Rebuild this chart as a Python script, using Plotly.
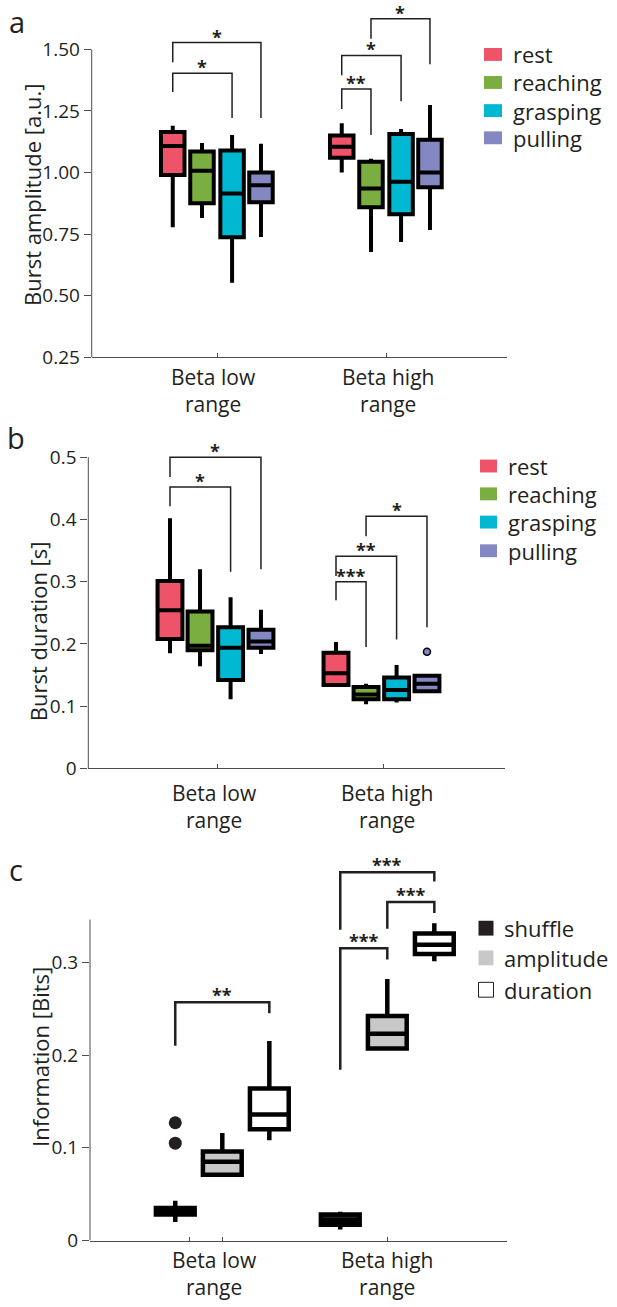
import plotly.graph_objects as go

W, H = 617, 1307
FONT = "Open Sans"
INK = "#231F20"

# ---------------- data ----------------
band_pos = [1, 2]
band_labels = ["Beta low<br>range", "Beta high<br>range"]

conditions = ["rest", "reaching", "grasping", "pulling"]
cond_colors = ["#EF5369", "#7BAE41", "#00B8D1", "#8388C2"]

# panel a : burst amplitude [a.u.]  (rows: rest, reaching, grasping, pulling)
amp_low_lo = [0.778, 0.815, 0.552, 0.738]
amp_low_q1 = [0.990, 0.875, 0.737, 0.879]
amp_low_med = [1.108, 1.007, 0.915, 0.948]
amp_low_q3 = [1.165, 1.085, 1.090, 1.000]
amp_low_hi = [1.190, 1.120, 1.153, 1.117]
amp_high_lo = [1.000, 0.677, 0.718, 0.766]
amp_high_q1 = [1.060, 0.859, 0.830, 0.940]
amp_high_med = [1.105, 0.935, 0.963, 1.000]
amp_high_q3 = [1.150, 1.044, 1.157, 1.133]
amp_high_hi = [1.200, 1.056, 1.177, 1.274]
amp_ticks = [0.25, 0.50, 0.75, 1.00, 1.25, 1.50]
amp_ticktext = ["0.25", "0.50", "0.75", "1.00", "1.25", "1.50"]

# panel b : burst duration [s]
dur_low_lo = [0.185, 0.164, 0.111, 0.184]
dur_low_q1 = [0.208, 0.190, 0.142, 0.194]
dur_low_med = [0.254, 0.197, 0.194, 0.204]
dur_low_q3 = [0.301, 0.252, 0.227, 0.223]
dur_low_hi = [0.402, 0.320, 0.275, 0.255]
dur_high_lo = [0.131, 0.103, 0.106, 0.122]
dur_high_q1 = [0.134, 0.111, 0.111, 0.124]
dur_high_med = [0.153, 0.119, 0.126, 0.136]
dur_high_q3 = [0.186, 0.131, 0.146, 0.149]
dur_high_hi = [0.203, 0.136, 0.166, 0.149]
dur_outlier_band = [1]
dur_outlier_cond = [3]
dur_outlier_val = [0.1875]
dur_ticks = [0, 0.1, 0.2, 0.3, 0.4, 0.5]
dur_ticktext = ["0", "0.1", "0.2", "0.3", "0.4", "0.5"]

# panel c : information [Bits]  (rows: shuffle, amplitude, duration)
info_groups = ["shuffle", "amplitude", "duration"]
info_colors = [INK, "#C8C8C8", "#FFFFFF"]
info_low_lo = [0.020, 0.070, 0.108]
info_low_q1 = [0.028, 0.071, 0.120]
info_low_med = [0.032, 0.085, 0.136]
info_low_q3 = [0.035, 0.096, 0.164]
info_low_hi = [0.043, 0.116, 0.215]
info_high_lo = [0.012, 0.206, 0.301]
info_high_q1 = [0.017, 0.207, 0.309]
info_high_med = [0.022, 0.223, 0.319]
info_high_q3 = [0.028, 0.242, 0.331]
info_high_hi = [0.031, 0.282, 0.342]
info_outlier_band = [0, 0]
info_outlier_group = [0, 0]
info_outlier_val = [0.127, 0.105]
info_ticks = [0, 0.1, 0.2, 0.3]
info_ticktext = ["0", "0.1", "0.2", "0.3"]

# significance brackets: band, from-group, to-group, top, left-leg end, right-leg end, label
a_sig_band = [0, 0, 1, 1, 1]
a_sig_from = [0, 0, 0, 0, 1]
a_sig_to = [2, 3, 1, 2, 3]
a_sig_top = [1.403, 1.528, 1.339, 1.476, 1.625]
a_sig_left = [1.327, 1.448, 1.258, 1.395, 1.544]
a_sig_right = [1.222, 1.222, 1.153, 1.290, 1.440]
a_sig_label = ["*", "*", "**", "*", "*"]

b_sig_band = [0, 0, 1, 1, 1]
b_sig_from = [0, 0, 0, 0, 1]
b_sig_to = [2, 3, 1, 2, 3]
b_sig_top = [0.452, 0.500, 0.300, 0.341, 0.405]
b_sig_left = [0.421, 0.468, 0.270, 0.309, 0.373]
b_sig_right = [0.316, 0.320, 0.195, 0.207, 0.227]
b_sig_label = ["*", "*", "***", "**", "*"]

c_sig_band = [0, 1, 1, 1]
c_sig_from = [0, 0, 1, 0]
c_sig_to = [2, 1, 2, 2]
c_sig_top = [0.257, 0.315, 0.365, 0.397]
c_sig_left = [0.210, 0.184, 0.336, 0.335]
c_sig_right = [0.245, 0.303, 0.353, 0.387]
c_sig_label = ["**", "***", "***", "***"]

# ---------------- layout helpers ----------------
def px(p):
    return p / W

def py(p):
    return 1 - p / H

fig = go.Figure()
shapes = []
annotations = []

panels = {
    "a": dict(xa="x", ya="y", xdom=(91.7, 506.7), xr=(0.2544, 2.710),
              ybot=360.7, ytop=10.2, yr=(0.25, 1.66), ytopline=1.5,
              offsets=[-0.266, -0.093, 0.085, 0.256], width=0.139, lw=4),
    "b": dict(xa="x2", ya="y2", xdom=(88.3, 505.0), xr=(0.2229, 2.733),
              ybot=776.2, ytop=442.9, yr=(0.0, 0.53), ytopline=0.5,
              offsets=[-0.285, -0.104, 0.080, 0.263], width=0.150, lw=4),
    "c": dict(xa="x3", ya="y3", xdom=(90.0, 506.7), xr=(0.1982, 2.7236),
              ybot=1253.0, ytop=859.5, yr=(0.0, 0.42), ytopline=0.346,
              offsets=[-0.285, 0.0, 0.285], width=0.235, lw=4.5),
}


def add_boxes(p, los, q1s, meds, q3s, his, colors):
    cfg = panels[p]
    for b, (lo, q1, md, q3, hi) in enumerate(zip(los, q1s, meds, q3s, his)):
        for g in range(len(lo)):
            fig.add_trace(go.Box(
                x=[band_pos[b] + cfg["offsets"][g]],
                lowerfence=[lo[g]], q1=[q1[g]], median=[md[g]], q3=[q3[g]], upperfence=[hi[g]],
                orientation="v", width=cfg["width"], whiskerwidth=0,
                fillcolor=colors[g], line=dict(color="black", width=cfg["lw"]),
                boxpoints=False, showlegend=False, hoverinfo="skip",
                xaxis=cfg["xa"], yaxis=cfg["ya"],
            ))


def add_brackets(p, bands, frm, to, top, left, right, labels, lw, star_size, star_shift):
    cfg = panels[p]
    for i in range(len(bands)):
        x1 = band_pos[bands[i]] + cfg["offsets"][frm[i]]
        x2 = band_pos[bands[i]] + cfg["offsets"][to[i]]
        shapes.append(dict(
            type="path", xref=cfg["xa"], yref=cfg["ya"],
            path=f"M {x1},{left[i]} L {x1},{top[i]} L {x2},{top[i]} L {x2},{right[i]}",
            line=dict(color=INK, width=lw),
        ))
        annotations.append(dict(
            x=(x1 + x2) / 2, y=top[i], xref=cfg["xa"], yref=cfg["ya"],
            text=f"<b>{labels[i]}</b>", showarrow=False, xanchor="center", yanchor="middle",
            yshift=star_shift, font=dict(family=FONT, size=star_size, color=INK),
        ))


add_boxes("a", [amp_low_lo, amp_high_lo], [amp_low_q1, amp_high_q1], [amp_low_med, amp_high_med],
          [amp_low_q3, amp_high_q3], [amp_low_hi, amp_high_hi], cond_colors)
add_boxes("b", [dur_low_lo, dur_high_lo], [dur_low_q1, dur_high_q1], [dur_low_med, dur_high_med],
          [dur_low_q3, dur_high_q3], [dur_low_hi, dur_high_hi], cond_colors)
add_boxes("c", [info_low_lo, info_high_lo], [info_low_q1, info_high_q1], [info_low_med, info_high_med],
          [info_low_q3, info_high_q3], [info_low_hi, info_high_hi], info_colors)

# outliers
fig.add_trace(go.Scatter(
    x=[band_pos[b] + panels["b"]["offsets"][g] for b, g in zip(dur_outlier_band, dur_outlier_cond)],
    y=dur_outlier_val, mode="markers", showlegend=False, hoverinfo="skip",
    marker=dict(size=7, color=[cond_colors[g] for g in dur_outlier_cond], line=dict(color="black", width=1.5)),
    xaxis="x2", yaxis="y2", cliponaxis=False,
))
fig.add_trace(go.Scatter(
    x=[band_pos[b] + panels["c"]["offsets"][g] for b, g in zip(info_outlier_band, info_outlier_group)],
    y=info_outlier_val, mode="markers", showlegend=False, hoverinfo="skip",
    marker=dict(size=13, color=INK),
    xaxis="x3", yaxis="y3", cliponaxis=False,
))

add_brackets("a", a_sig_band, a_sig_from, a_sig_to, a_sig_top, a_sig_left, a_sig_right, a_sig_label, 1.5, 18, 6)
add_brackets("b", b_sig_band, b_sig_from, b_sig_to, b_sig_top, b_sig_left, b_sig_right, b_sig_label, 1.5, 18, 6)
add_brackets("c", c_sig_band, c_sig_from, c_sig_to, c_sig_top, c_sig_left, c_sig_right, c_sig_label, 2.5, 18, 7)

# axes
tickfont = dict(family=FONT, size=19, color=INK)
axis_ticks = {"a": (amp_ticks, amp_ticktext), "b": (dur_ticks, dur_ticktext), "c": (info_ticks, info_ticktext)}
xtickvals = {"a": band_pos, "b": band_pos, "c": [0.8] + band_pos}
layout_axes = {}
for key, cfg in panels.items():
    xname = "xaxis" if cfg["xa"] == "x" else "xaxis" + cfg["xa"][1:]
    yname = "yaxis" if cfg["ya"] == "y" else "yaxis" + cfg["ya"][1:]
    layout_axes[xname] = dict(
        domain=[px(cfg["xdom"][0]), px(cfg["xdom"][1])], range=list(cfg["xr"]),
        anchor=cfg["ya"], showline=True, linecolor="#4D4D4D", linewidth=1,
        ticks="inside", ticklen=4, tickcolor="#4D4D4D", tickvals=xtickvals[key],
        showticklabels=False, showgrid=False, zeroline=False, fixedrange=True,
    )
    layout_axes[yname] = dict(
        domain=[py(cfg["ybot"]), py(cfg["ytop"])], range=list(cfg["yr"]),
        anchor=cfg["xa"], showline=False, ticks="outside", ticklen=7, tickwidth=1,
        tickcolor="#4D4D4D", tickvals=axis_ticks[key][0], ticktext=axis_ticks[key][1],
        tickfont=tickfont, showgrid=False, zeroline=False, fixedrange=True,
    )
    # visible y-axis spine only up to the last tick
    shapes.append(dict(type="line", xref="paper", yref=cfg["ya"],
                       x0=px(cfg["xdom"][0]), x1=px(cfg["xdom"][0]),
                       y0=cfg["yr"][0], y1=cfg["ytopline"],
                       line=dict(color="#4D4D4D", width=1)))

# category labels (two lines each)
label_centers = {"a": (394.0, [-4, 1]), "b": (815.0, [-3, 4]), "c": (1286.0, [-8, 0])}
for key, (yc, shifts) in label_centers.items():
    cfg = panels[key]
    for b in range(2):
        annotations.append(dict(
            x=band_pos[b], y=py(yc), xref=cfg["xa"], yref="paper", text=band_labels[b],
            showarrow=False, xanchor="center", yanchor="middle", xshift=shifts[b],
            font=dict(family=FONT, size=21, color=INK),
        ))

# axis titles
for title, xc, yc in (("Burst amplitude [a.u.]", 31.5, 197.5),
                      ("Burst duration [s]", 38.0, 637.5),
                      ("Information [Bits]", 40.0, 1067.5)):
    annotations.append(dict(x=px(xc), y=py(yc), xref="paper", yref="paper", text=title,
                            textangle=-90, showarrow=False, xanchor="center", yanchor="middle",
                            font=dict(family=FONT, size=22, color=INK)))

# panel letters
for letter, xc, yc in (("a", 17, 21.6), ("b", 16, 441.6), ("c", 16, 878.6)):
    annotations.append(dict(x=px(xc), y=py(yc), xref="paper", yref="paper", text=letter,
                            showarrow=False, xanchor="center", yanchor="middle",
                            font=dict(family=FONT, size=29, color=INK)))

# legends
def add_legend(names, colors, rows, sq_x0, sq_w, sq_h, text_x, size, borders):
    for name, col, yc, bd in zip(names, colors, rows, borders):
        shapes.append(dict(type="rect", xref="paper", yref="paper",
                           x0=px(sq_x0), x1=px(sq_x0 + sq_w), y0=py(yc + sq_h / 2), y1=py(yc - sq_h / 2),
                           fillcolor=col, line=dict(color=INK if bd else col, width=1 if bd else 0)))
        annotations.append(dict(x=px(text_x), y=py(yc), xref="paper", yref="paper", text=name,
                                showarrow=False, xanchor="left", yanchor="middle",
                                font=dict(family=FONT, size=size, color=INK)))

add_legend(conditions, cond_colors, [55.0, 83.3, 111.7, 139.2], 484, 18, 13, 511, 22, [0, 0, 0, 0])
add_legend(conditions, cond_colors, [470.7, 498.8, 527.3, 556.3], 480, 17, 13, 506, 22, [0, 0, 0, 0])
add_legend(info_groups, info_colors, [937.5, 967.5, 999.7], 478.5, 15, 15, 502, 22, [0, 0, 1])

fig.update_layout(
    width=W, height=H, margin=dict(l=0, r=0, t=0, b=0),
    paper_bgcolor="white", plot_bgcolor="white",
    showlegend=False, boxmode="overlay", hovermode=False,
    shapes=shapes, annotations=annotations, **layout_axes,
)

fig.write_html("out.html", config={"displayModeBar": False, "staticPlot": True},
               post_script="document.body.style.margin='0';document.body.style.overflow='hidden';")
